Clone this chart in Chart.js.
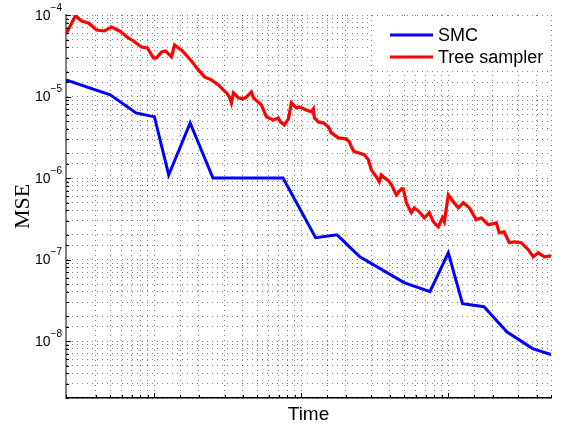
<!DOCTYPE html>
<html>
<head>
<meta charset="utf-8">
<script src="https://cdn.jsdelivr.net/npm/chart.js@4"></script>
<style>
  html, body { margin: 0; padding: 0; background: #fff; }
  #wrap { width: 562px; height: 431px; }
</style>
</head>
<body>
<div id="wrap"><canvas id="myChart"></canvas></div>
<script>
//MSE against time, log-log

const smcTime = [2.5, 5, 7.5, 10, 12.5, 17.5, 25, 75, 125, 175, 250, 500, 750, 1000, 1250, 1750, 2500, 3750, 5000];
const smcMse = [1.6e-5, 1.05e-5, 6.3e-6, 5.62e-6, 1.09e-6, 4.75e-6, 1.0e-6, 1.0e-6, 1.85e-7, 2.01e-7, 1.08e-7, 5.2e-8, 4.03e-8, 1.21e-7, 2.87e-8, 2.64e-8, 1.3e-8, 8.07e-9, 6.8e-9];

const treeTime = [2.5, 2.9, 3.19, 3.56, 4.03, 4.57, 5.1, 5.78, 6.66, 7.2, 8.16, 8.96, 9.84, 10.3, 11.2, 11.9, 13.05, 13.7, 15.5, 17.85,
  19.9, 21.9, 24.4, 27.3, 29.5, 30.9, 32.4, 33.4, 34.5, 37.3, 40.3, 42.3, 45.7, 47.2, 53.4, 57.8, 64.5, 69.7, 72, 76.6,
  81.6, 85.5, 92.5, 96.9, 108, 117, 120.7, 122.6, 130.5, 141, 152.7, 160, 178.5, 202, 212, 219, 229, 244, 268, 286,
  299, 324, 339, 350, 367, 391, 410, 443, 479, 494, 518, 560, 587, 635, 687, 743, 791, 855, 911, 940,
  1000, 1081, 1170, 1265, 1390, 1550, 1677, 1871, 2121, 2223, 2404, 2600, 2812, 3139, 3501, 3787, 4095, 4499, 5000];
const treeMse = [5.85e-5, 9.8e-5, 8.44e-5, 7.98e-5, 6.55e-5, 6.37e-5, 7.13e-5, 6.37e-5, 5.22e-5, 4.8e-5, 4.05e-5, 3.94e-5, 2.97e-5, 2.97e-5, 3.52e-5, 3.62e-5, 3.06e-5, 4.29e-5, 3.62e-5, 2.73e-5,
  2.12e-5, 1.74e-5, 1.6e-5, 1.39e-5, 1.2e-5, 1.11e-5, 9.89e-6, 8.35e-6, 1.11e-5, 9.61e-6, 9.35e-6, 9.89e-6, 1.14e-5, 9.61e-6, 7.89e-6, 5.62e-6, 5.16e-6, 5.46e-6, 4.88e-6, 4.49e-6,
  5.31e-6, 8.35e-6, 7.25e-6, 7.46e-6, 6.85e-6, 6.48e-6, 7.05e-6, 5.46e-6, 4.88e-6, 4.75e-6, 4.24e-6, 3.58e-6, 3.11e-6, 3.02e-6, 2.78e-6, 2.41e-6, 2.1e-6, 2.04e-6, 1.93e-6, 1.67e-6,
  1.26e-6, 1.03e-6, 8.98e-7, 1.09e-6, 1.01e-6, 9.3e-7, 8.3e-7, 6.22e-7, 7.37e-7, 7.37e-7, 4.97e-7, 3.75e-7, 4.31e-7, 3.85e-7, 3.25e-7, 3.75e-7, 2.9e-7, 2.52e-7, 3.25e-7, 2.9e-7,
  6.22e-7, 5.11e-7, 4.31e-7, 4.97e-7, 4.31e-7, 3.07e-7, 3.25e-7, 2.67e-7, 2.82e-7, 2.13e-7, 2.19e-7, 1.61e-7, 1.65e-7, 1.61e-7, 1.32e-7, 1.08e-7, 1.21e-7, 1.08e-7, 1.11e-7];

const seriesLabels = ["SMC", "Tree sampler"];
const seriesColors = ["#0000ff", "#ff0000"];

const xMin = 2.5, xMax = 5000;
const yMin = 2e-9, yMax = 1e-4;

const toPoints = (xs, ys) => xs.map((x, i) => ({ x: x, y: ys[i] }));

const isDecade = (v) => {
  const e = Math.log10(v);
  return Math.abs(e - Math.round(e)) < 1e-6;
};

//ticks pointing inward + 10^n labels
const matlabAxes = {
  id: "matlabAxes",
  afterDraw(chart) {
    const ctx = chart.ctx;
    const { left, bottom } = chart.chartArea;
    const xs = chart.scales.x;
    const ys = chart.scales.y;
    ctx.save();
    ctx.strokeStyle = "#000";
    ctx.lineWidth = 1;
    ys.ticks.forEach((t) => {
      const py = Math.round(ys.getPixelForValue(t.value)) + 0.5;
      const len = isDecade(t.value) ? 5 : 3;
      ctx.beginPath();
      ctx.moveTo(left, py);
      ctx.lineTo(left + len, py);
      ctx.stroke();
    });
    xs.ticks.forEach((t) => {
      const px = Math.round(xs.getPixelForValue(t.value)) + 0.5;
      const len = isDecade(t.value) ? 5 : 3;
      ctx.beginPath();
      ctx.moveTo(px, bottom);
      ctx.lineTo(px, bottom - len);
      ctx.stroke();
    });

    ctx.fillStyle = "#000";
    ctx.textBaseline = "middle";
    ys.ticks.forEach((t) => {
      if (!isDecade(t.value)) return;
      const py = ys.getPixelForValue(t.value);
      const sup = "\u2212" + Math.abs(Math.round(Math.log10(t.value)));
      ctx.font = "10px 'Liberation Sans'";
      const supW = ctx.measureText(sup).width;
      const supX = left - 4 - supW;
      ctx.textAlign = "left";
      ctx.fillText(sup, supX, py - 7);
      ctx.font = "14px 'Liberation Sans'";
      ctx.textAlign = "right";
      ctx.fillText("10", supX, py + 1);
    });
    ctx.restore();
  },
};

const legendBox = {
  id: "legendBox",
  afterDraw(chart) {
    const ctx = chart.ctx;
    const { right, top } = chart.chartArea;
    ctx.save();
    ctx.fillStyle = "#fff";
    ctx.fillRect(right - 179, top + 2, 177, 54);
    ctx.font = "18px 'Liberation Sans'";
    ctx.textBaseline = "middle";
    ctx.textAlign = "left";
    chart.data.datasets.forEach((ds, i) => {
      const y = top + 20 + i * 22;
      ctx.strokeStyle = ds.borderColor;
      ctx.lineWidth = 3;
      ctx.beginPath();
      ctx.moveTo(right - 161, y);
      ctx.lineTo(right - 118, y);
      ctx.stroke();
      ctx.fillStyle = "#000";
      ctx.fillText(ds.label, right - 113, y + 1);
    });
    ctx.restore();
  },
};

const gridOpts = { color: "rgba(0,0,0,0.5)", lineWidth: 1, drawTicks: false };

new Chart("myChart", {
  type: "line",
  data: {
    datasets: [
      {
        label: seriesLabels[0],
        data: toPoints(smcTime, smcMse),
        borderColor: seriesColors[0],
        borderWidth: 3,
        pointRadius: 0,
        tension: 0,
      },
      {
        label: seriesLabels[1],
        data: toPoints(treeTime, treeMse),
        borderColor: seriesColors[1],
        borderWidth: 3.2,
        pointRadius: 0,
        tension: 0,
      },
    ],
  },
  options: {
    responsive: true,
    maintainAspectRatio: false,
    animation: false,
    events: [],
    layout: { padding: { top: 15, right: 11, left: 0, bottom: 0 } },
    plugins: { legend: { display: false }, tooltip: { enabled: false } },
    scales: {
      x: {
        type: "logarithmic",
        min: xMin,
        max: xMax,
        ticks: { display: false, autoSkip: false },
        grid: gridOpts,
        border: { display: true, color: "#000", width: 1.5, dash: [1, 4] },
        title: {
          display: true,
          text: "Time",
          color: "#000",
          font: { family: "Liberation Sans", size: 19 },
          padding: { top: 0, bottom: 5 },
        },
        afterFit: (s) => { s.height = 33; },
      },
      y: {
        type: "logarithmic",
        min: yMin,
        max: yMax,
        ticks: { autoSkip: false, padding: 0, callback: () => "" },
        grid: gridOpts,
        border: { display: true, color: "#808080", width: 2, dash: [1, 4] },
        title: {
          display: true,
          text: "MSE",
          color: "#000",
          font: { family: "Liberation Serif", size: 22 },
          padding: { top: 10, bottom: 0 },
        },
        afterFit: (s) => { s.width = 66; },
      },
    },
  },
  plugins: [matlabAxes, legendBox],
});
</script>
</body>
</html>
